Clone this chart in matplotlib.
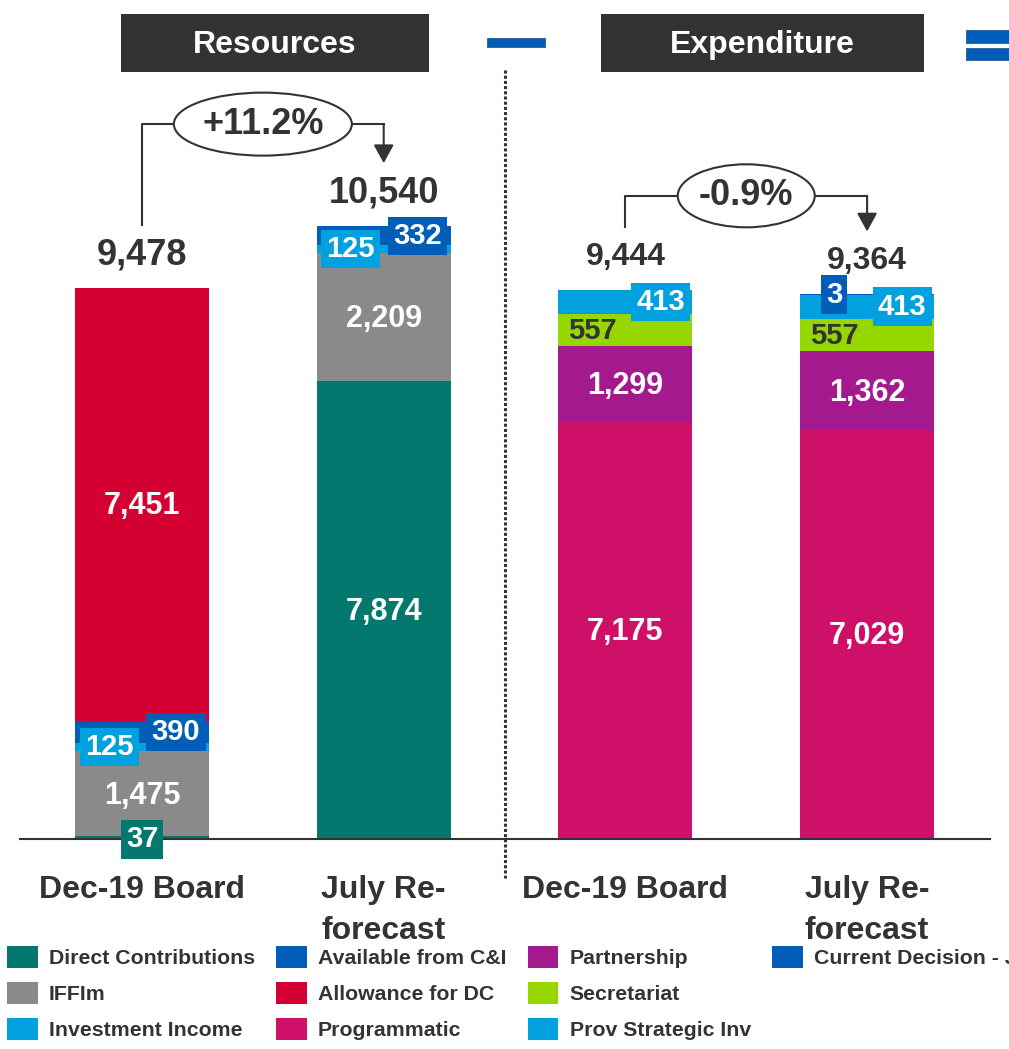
import matplotlib.pyplot as plt
from matplotlib.patches import Rectangle, Ellipse, Patch

plt.rcParams['font.family'] = ['Liberation Sans', 'DejaVu Sans']

# --- data ---
categories = ['Dec-19 Board', 'July Re-\nforecast', 'Dec-19 Board', 'July Re-\nforecast']

direct_contrib = [37, 7874, 0, 0]
iffim = [1475, 2209, 0, 0]
investment_income = [125, 125, 0, 0]
available_ci = [390, 332, 0, 0]
allowance_dc = [7451, 0, 0, 0]
programmatic = [0, 0, 7175, 7029]
partnership = [0, 0, 1299, 1362]
secretariat = [0, 0, 557, 557]
prov_strategic = [0, 0, 413, 413]
current_decision = [0, 0, 0, 3]

group_titles = ['Resources', 'Expenditure']
change_labels = ['+11.2%', '-0.9%']

# stack order, bottom to top
stack = [
    ('Direct Contributions', direct_contrib, '#02786E'),
    ('IFFIm', iffim, '#8A8A8A'),
    ('Investment Income', investment_income, '#00A1DE'),
    ('Available from C&I', available_ci, '#005EB8'),
    ('Allowance for DC', allowance_dc, '#D50032'),
    ('Programmatic', programmatic, '#CE1068'),
    ('Partnership', partnership, '#A4198E'),
    ('Secretariat', secretariat, '#97D700'),
    ('Prov Strategic Inv', prov_strategic, '#00A1DE'),
    ('Current Decision - July', current_decision, '#005EB8'),
]
legend_order = ['Direct Contributions', 'IFFIm', 'Investment Income',
                'Available from C&I', 'Allowance for DC', 'Programmatic',
                'Partnership', 'Secretariat', 'Prov Strategic Inv',
                'Current Decision - July']

# how the small segments get labelled: (kind, x offset px, y offset px)
small_style = {
    'Direct Contributions': ('box', 0, 2),
    'Investment Income': ('box', -33, 0),
    'Available from C&I': ('box', 34, 0),
    'Secretariat': ('dark', -33, 1),
    'Current Decision - July': ('box', -33, 0),
    'Prov Strategic Inv': ('box', 35, 0),
}

DARK = '#333333'
W, H = 1009, 1049
STEP = 241.7        # px between bar centres
PPU = 0.0581        # px per unit
UPP = 1 / PPU


def fx(px):
    return px / W


def fy(py):
    return 1 - py / H


fig = plt.figure(figsize=(W / 100, H / 100), dpi=100)
ax = fig.add_axes([fx(20), fy(838.5), 970 / W, 838.5 / H])
ax.set_xlim(-122 / STEP, 848 / STEP)
ax.set_ylim(0, 838.5 * UPP)

x = list(range(len(categories)))
bottoms = [0] * len(categories)
colors = {}
for name, vals, col in stack:
    colors[name] = col
    ax.bar(x, vals, bottom=bottoms, width=134 / STEP, color=col, linewidth=0, zorder=2)
    for i, v in enumerate(vals):
        if v == 0:
            continue
        mid = bottoms[i] + v / 2
        if v > 1000:
            ax.annotate(f'{v:,}', xy=(i, mid), xytext=(0, -1.5), textcoords='offset points',
                        ha='center', va='center', color='white', fontsize=22,
                        fontweight='bold', zorder=4)
        else:
            kind, dx, dy = small_style[name]
            if kind == 'box':
                ax.annotate(f'{v:,}', xy=(i, mid), xytext=(dx * 0.72, -dy * 0.72),
                            textcoords='offset points', ha='center', va='center',
                            color='white', fontsize=21, fontweight='bold', zorder=5,
                            bbox=dict(boxstyle='square,pad=0.18', fc=col, ec='none'))
            else:
                ax.annotate(f'{v:,}', xy=(i, mid), xytext=(dx * 0.72, -dy * 0.72),
                            textcoords='offset points', ha='center', va='center',
                            color=DARK, fontsize=21, fontweight='bold', zorder=5)
    bottoms = [b + v for b, v in zip(bottoms, vals)]

totals = bottoms
label_y = []
for i, t in enumerate(totals):
    y = t + 33 * UPP
    label_y.append(y)
    ax.text(i, y, f'{t:,}', ha='center', va='center', color=DARK,
            fontsize=26 if i < 2 else 23, fontweight='bold')


def bracket(i0, i1, text, rise_px, ell_w_px):
    y0 = label_y[i0] + 30 * UPP
    y1 = label_y[i1] + 30 * UPP
    level = max(label_y[i0], label_y[i1]) + rise_px * UPP
    ax.plot([i0, i0, i1], [y0, level, level], color=DARK, lw=1.5, clip_on=False)
    ax.annotate('', xy=(i1, y1), xytext=(i1, level),
                arrowprops=dict(arrowstyle='-|>,head_length=0.4,head_width=0.22',
                                color=DARK, lw=1.5, shrinkA=0, shrinkB=0,
                                mutation_scale=28))
    ax.add_patch(Ellipse(((i0 + i1) / 2, level), ell_w_px / STEP, 63 * UPP,
                         fc='white', ec=DARK, lw=1.5, zorder=5, clip_on=False))
    ax.text((i0 + i1) / 2, level, text, ha='center', va='center', fontsize=26,
            fontweight='bold', color=DARK, zorder=6)


bracket(0, 1, change_labels[0], 69, 178)
bracket(2, 3, change_labels[1], 61, 137)

# dotted separator
ax.plot([1.5, 1.5], [(838.5 - 70) * UPP, (838.5 - 878) * UPP], color=DARK,
        lw=2.2, ls=(0, (1, 0.7)), clip_on=False)

ax.set_xticks(x, categories, fontsize=23, fontweight='bold', color=DARK)
for lbl in ax.get_xticklabels():
    lbl.set_linespacing(1.5)
ax.tick_params(axis='x', length=0, pad=26)
ax.set_yticks([])
for s in ['top', 'left', 'right']:
    ax.spines[s].set_visible(False)
ax.spines['bottom'].set_color(DARK)
ax.spines['bottom'].set_linewidth(1.5)
ax.spines['bottom'].set_zorder(3)

# header boxes
for title, (l, r) in zip(group_titles, [(121, 429), (601, 924)]):
    fig.add_artist(Rectangle((fx(l), fy(72)), (r - l) / W, 58 / H,
                             transform=fig.transFigure, fc=DARK, ec='none'))
    fig.text(fx((l + r) / 2), fy(45), title, ha='center', va='center',
             color='white', fontsize=23, fontweight='bold')

# blue minus / equals signs
for l, r, t, b in [(487, 545, 38, 47), (966, 1012, 30, 43), (966, 1012, 48, 60)]:
    fig.add_artist(Rectangle((fx(l), fy(b)), (r - l) / W, (b - t) / H,
                             transform=fig.transFigure, fc='#005EB8', ec='#2A5A9A', lw=0.6))

handles = [Patch(fc=colors[n], ec='none') for n in legend_order]
handles += [Patch(alpha=0), Patch(alpha=0)]
labels = legend_order + ['', '']
fig.legend(handles, labels, ncol=4, loc='upper left', bbox_to_anchor=(fx(7), fy(946)),
           frameon=False, borderpad=0, borderaxespad=0, handlelength=1.44,
           handleheight=1.2, handletextpad=0.53, columnspacing=1.0,
           labelspacing=0.66, prop=dict(size=15.3, weight='bold'), labelcolor=DARK)

fig.savefig('out.png', dpi=100)
